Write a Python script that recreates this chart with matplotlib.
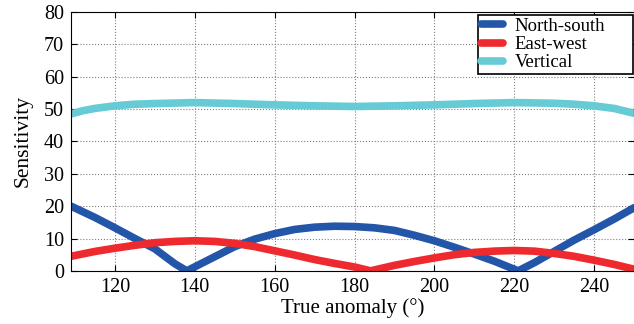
import numpy as np
import matplotlib
matplotlib.use("Agg")
import matplotlib.pyplot as plt

# true anomaly (deg)
anomaly = [109, 115, 120, 125, 130, 135, 138, 142, 146, 150, 155, 160, 165, 170,
           175, 180, 185, 190, 195, 200, 205, 210, 215, 218, 221, 225, 230, 235,
           240, 245, 250]
north_south = [20, 16.5, 13.3, 10, 6.8, 2.2, 0, 2.5, 5, 7.5, 9.8, 11.5, 12.8, 13.5,
               13.8, 13.7, 13.3, 12.5, 11, 9.3, 7.3, 5.2, 3, 1.5, 0, 2.5, 6, 9.5,
               12.7, 16, 19.5]

anomaly_ew = [109, 115, 120, 125, 130, 135, 140, 145, 150, 155, 160, 165, 170, 175,
              180, 184, 190, 195, 200, 205, 210, 215, 220, 225, 230, 235, 240, 245, 250]
east_west = [4.5, 6, 7, 7.9, 8.7, 9.1, 9.3, 9.1, 8.5, 7.5, 6.2, 4.9, 3.5, 2.3,
             1.2, 0, 1.7, 2.9, 4, 5, 5.7, 6.1, 6.3, 6.1, 5.4, 4.5, 3.3, 2, 0.5]

anomaly_v = [109, 112, 115, 120, 125, 130, 140, 150, 160, 170, 180, 190, 200, 210,
             220, 230, 235, 240, 245, 250]
vertical = [48.5, 49.5, 50.2, 51, 51.5, 51.7, 52, 51.7, 51.3, 51, 50.8, 51, 51.3,
            51.7, 52, 51.8, 51.5, 51, 50.2, 48.7]

plt.rcParams['font.family'] = ['Liberation Serif', 'DejaVu Serif']
plt.rcParams['font.size'] = 14.5

fig = plt.figure(figsize=(6.34, 3.24), dpi=100)
ax = fig.add_axes([0.112, 0.164, 0.888, 0.799])

ax.plot(anomaly, north_south, color='#2356a8', lw=5.5, solid_capstyle='round',
        solid_joinstyle='miter', label='North-south')
ax.plot(anomaly_ew, east_west, color='#ee2a2e', lw=5.5, solid_capstyle='round',
        solid_joinstyle='miter', label='East-west')
ax.plot(anomaly_v, vertical, color='#66cbd5', lw=5.5, solid_capstyle='round',
        label='Vertical')

ax.set_xlim(109, 250)
ax.set_ylim(0, 80)
ax.set_xticks([120, 140, 160, 180, 200, 220, 240])
ax.set_yticks(range(0, 81, 10))
ax.grid(True, linestyle=':', color='#808080', lw=0.8)
ax.tick_params(direction='in', top=True, right=True, length=4, pad=5)
ax.set_xlabel('True anomaly (°)', fontsize=15, labelpad=1)
ax.set_ylabel('Sensitivity', fontsize=15.5, labelpad=8)

leg = ax.legend(loc='upper left', bbox_to_anchor=(0.723, 0.0, 0.275, 0.988),
                mode='expand', fancybox=False, edgecolor='black', framealpha=1,
                fontsize=13.5, borderpad=0.15, labelspacing=0.05, handlelength=1.2,
                handletextpad=0.6, borderaxespad=0.0)
leg.get_frame().set_linewidth(1.2)

fig.savefig('out.png', dpi=100)
